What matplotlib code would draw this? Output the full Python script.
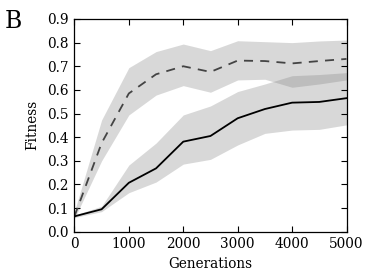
import matplotlib
matplotlib.use("Agg")
import matplotlib.pyplot as plt
import numpy as np

generations = [0, 500, 1000, 1500, 2000, 2500, 3000, 3500, 4000, 4500, 5000]

dashed_mean = [0.065, 0.375, 0.585, 0.666, 0.700, 0.676, 0.724, 0.722, 0.712, 0.722, 0.731]
dashed_upper = [0.085, 0.473, 0.694, 0.762, 0.794, 0.766, 0.808, 0.804, 0.800, 0.807, 0.811]
dashed_lower = [0.055, 0.300, 0.494, 0.578, 0.618, 0.590, 0.642, 0.645, 0.611, 0.625, 0.642]

solid_mean = [0.065, 0.095, 0.207, 0.268, 0.381, 0.405, 0.480, 0.519, 0.546, 0.549, 0.565]
solid_upper = [0.070, 0.108, 0.282, 0.375, 0.494, 0.532, 0.593, 0.625, 0.660, 0.665, 0.673]
solid_lower = [0.060, 0.085, 0.165, 0.210, 0.286, 0.306, 0.367, 0.416, 0.430, 0.433, 0.452]

xticks = [0, 1000, 2000, 3000, 4000, 5000]
yticks = [0.0, 0.1, 0.2, 0.3, 0.4, 0.5, 0.6, 0.7, 0.8, 0.9]

plt.rcParams['font.family'] = ['DejaVu Serif']

fig = plt.figure(figsize=(3.74, 2.77), dpi=100)
ax = fig.add_axes([0.199, 0.1635, 0.7275, 0.768])

ax.fill_between(generations, dashed_lower, dashed_upper, color='0.5', alpha=0.3, linewidth=0)
ax.fill_between(generations, solid_lower, solid_upper, color='0.5', alpha=0.3, linewidth=0)
ax.plot(generations, dashed_mean, color='#444444', linestyle=(0, (5, 4)), linewidth=1.3)
ax.plot(generations, solid_mean, color='black', linewidth=1.3)

ax.set_xlim(0, 5000)
ax.set_ylim(0.0, 0.9)
ax.set_xticks(xticks)
ax.set_yticks(yticks)
ax.set_yticklabels([f"{v:.1f}" for v in yticks])
ax.tick_params(direction='in', top=True, right=True, length=4, width=0.8, labelsize=9.8, pad=4)
for s in ax.spines.values():
    s.set_linewidth(0.9)

ax.set_xlabel("Generations", fontsize=9.8, labelpad=4)
ax.set_ylabel("Fitness", fontsize=9.8, labelpad=6)

fig.text(0.012, 0.965, "B", fontsize=17, va='top', ha='left')

fig.savefig("out.png", dpi=100)
